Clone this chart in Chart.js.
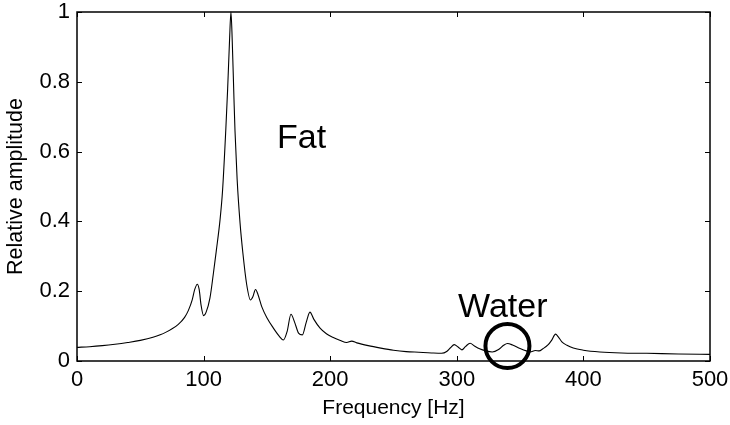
<!DOCTYPE html>
<html>
<head>
<meta charset="utf-8">
<script src="https://cdn.jsdelivr.net/npm/chart.js@4.4.1/dist/chart.umd.min.js"></script>
<style>
  html, body { margin: 0; padding: 0; background: #fff; }
  #wrap { width: 730px; height: 425px; }
</style>
</head>
<body>
<div id="wrap"><canvas id="c" width="730" height="425"></canvas></div>
<script>
// ---- data ----
const freqHz = [0, 10, 20, 30, 40, 50, 60, 70, 80, 85, 88, 91, 93, 95, 96.5, 98, 100, 102, 105, 107.7, 110, 113, 115, 117.5, 119, 120.5, 121.6, 122.6, 124, 124.8, 126.5, 128.8, 131, 134, 137, 139, 141, 143, 146, 150, 155, 160, 163, 166, 169, 172, 175, 178, 181, 184, 187, 192, 197, 202, 208, 213, 217, 221, 230, 240, 250, 260, 270, 280, 288, 292, 295, 298, 301, 304, 307, 310.5, 314, 318, 323, 328, 333, 337, 340, 344, 350, 355, 358, 362, 365, 368, 372, 375, 378, 380, 383, 387, 392, 400, 413, 430, 450, 475, 500];
const amplitude = [0.039, 0.041, 0.044, 0.048, 0.053, 0.059, 0.068, 0.082, 0.105, 0.125, 0.145, 0.175, 0.205, 0.22, 0.205, 0.16, 0.13, 0.14, 0.18, 0.25, 0.315, 0.405, 0.49, 0.66, 0.78, 0.92, 1.0, 0.92, 0.75, 0.66, 0.52, 0.395, 0.31, 0.22, 0.175, 0.185, 0.205, 0.19, 0.155, 0.124, 0.095, 0.07, 0.06, 0.085, 0.134, 0.11, 0.08, 0.075, 0.11, 0.14, 0.12, 0.094, 0.078, 0.068, 0.059, 0.053, 0.057, 0.052, 0.044, 0.037, 0.031, 0.027, 0.025, 0.023, 0.022, 0.027, 0.038, 0.047, 0.04, 0.032, 0.042, 0.051, 0.043, 0.035, 0.029, 0.026, 0.033, 0.045, 0.05, 0.046, 0.036, 0.029, 0.026, 0.03, 0.029, 0.035, 0.046, 0.06, 0.077, 0.07, 0.055, 0.045, 0.037, 0.031, 0.026, 0.023, 0.022, 0.02, 0.019];
const xTickValues = [0, 100, 200, 300, 400, 500];
const yTickValues = [0, 0.2, 0.4, 0.6, 0.8, 1];
const xTitle = 'Frequency [Hz]';
const yTitle = 'Relative amplitude';
const labelTexts = ['Fat', 'Water'];
const labelFreq = [158, 301];
const labelAmp = [0.61, 0.126];
const circleFreq = [340];
const circleAmp = [0.043];

const FONT = 'Liberation Sans, Arial, Helvetica, sans-serif';

const points = freqHz.map((f, i) => ({ x: f, y: amplitude[i] }));
const circlePts = circleFreq.map((f, i) => ({ x: f, y: circleAmp[i] }));

const framePlugin = {
  id: 'frame',
  afterDatasetsDraw(chart) {
    const { ctx, chartArea: a, scales: { x, y } } = chart;
    ctx.save();
    ctx.strokeStyle = '#000';
    ctx.lineWidth = 1.5;
    ctx.strokeRect(a.left, a.top, a.right - a.left, a.bottom - a.top);
    ctx.lineWidth = 1;
    const tl = 5;
    ctx.beginPath();
    xTickValues.forEach(v => {
      const px = Math.round(x.getPixelForValue(v)) + 0.5;
      ctx.moveTo(px, a.bottom); ctx.lineTo(px, a.bottom - tl);
      ctx.moveTo(px, a.top); ctx.lineTo(px, a.top + tl);
    });
    yTickValues.forEach(v => {
      const py = Math.round(y.getPixelForValue(v)) + 0.5;
      ctx.moveTo(a.left, py); ctx.lineTo(a.left + tl, py);
      ctx.moveTo(a.right, py); ctx.lineTo(a.right - tl, py);
    });
    ctx.stroke();
    // annotations
    ctx.fillStyle = '#000';
    ctx.font = '34px ' + FONT;
    ctx.textAlign = 'left';
    ctx.textBaseline = 'alphabetic';
    labelTexts.forEach((t, i) => {
      ctx.fillText(t, x.getPixelForValue(labelFreq[i]), y.getPixelForValue(labelAmp[i]));
    });
    ctx.restore();
  }
};

new Chart(document.getElementById('c'), {
  type: 'line',
  data: {
    datasets: [
      {
        data: points,
        borderColor: '#000',
        borderWidth: 1.1,
        pointRadius: 0,
        fill: false,
        cubicInterpolationMode: 'monotone',
        clip: false
      },
      {
        type: 'scatter',
        data: circlePts,
        pointRadius: 22,
        pointHoverRadius: 22,
        borderWidth: 4,
        borderColor: '#000',
        backgroundColor: 'rgba(0,0,0,0)',
        clip: false
      }
    ]
  },
  options: {
    responsive: false,
    animation: false,
    devicePixelRatio: 1,
    events: [],
    layout: { autoPadding: false, padding: { left: 0, top: 12, right: 20, bottom: 0 } },
    plugins: { legend: { display: false }, tooltip: { enabled: false } },
    scales: {
      x: {
        type: 'linear',
        min: 0, max: 500,
        afterBuildTicks: s => { s.ticks = xTickValues.map(v => ({ value: v })); },
        afterFit: s => { s.height = 64; s.paddingLeft = 0; s.paddingRight = 0; },
        grid: { display: false, drawTicks: false },
        border: { display: false },
        ticks: { color: '#000', font: { family: FONT, size: 22 }, padding: 6, maxRotation: 0,
                 callback: v => String(v) },
        title: { display: true, text: xTitle, color: '#000', font: { family: FONT, size: 21 }, padding: { top: 2, bottom: 4 } }
      },
      y: {
        type: 'linear',
        min: 0, max: 1,
        afterBuildTicks: s => { s.ticks = yTickValues.map(v => ({ value: v })); },
        afterFit: s => { s.width = 77; s.paddingTop = 0; s.paddingBottom = 0; },
        grid: { display: false, drawTicks: false },
        border: { display: false },
        ticks: { color: '#000', font: { family: FONT, size: 22 }, padding: 7,
                 callback: v => String(Math.round(v * 10) / 10) },
        title: { display: true, text: yTitle, color: '#000', font: { family: FONT, size: 21.5 }, padding: { top: 3, bottom: 4 } }
      }
    }
  },
  plugins: [framePlugin]
});
</script>
</body>
</html>
